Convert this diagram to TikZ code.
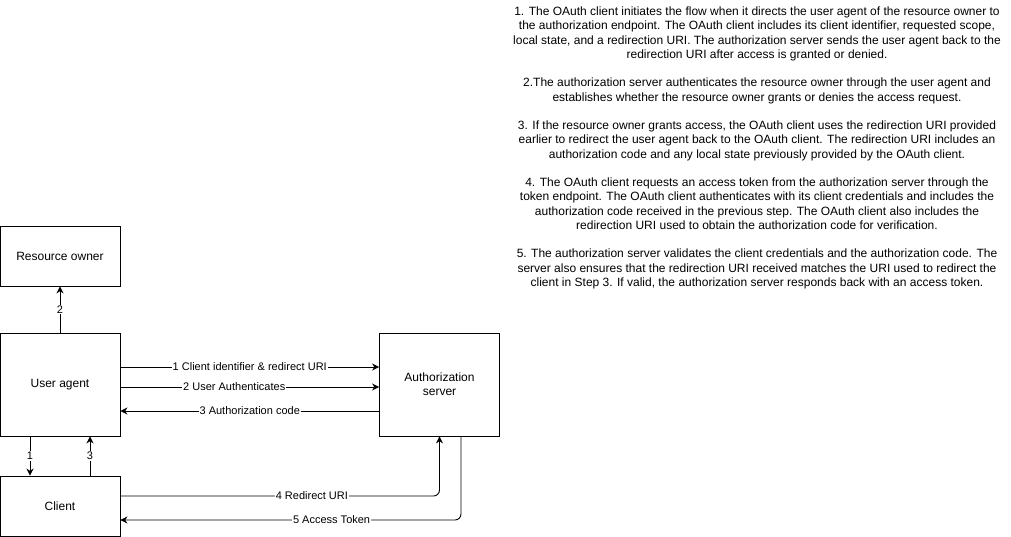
\documentclass[tikz,border=0pt]{standalone}
\usepackage{fontspec}
\setmainfont{Liberation Sans}
\usepackage{tikz}
\usetikzlibrary{
    calc,
    arrows.meta,
    positioning
}
\tikzset{
    box/.style={draw, line width=0.9pt, minimum width=120pt, inner sep=0pt,
        font=\fontsize{12}{14}\selectfont, align=center},
    arr/.style={line width=0.9pt, -{Stealth[length=7pt,width=7pt]}},
    lbl/.style={fill=white, inner sep=1pt, font=\fontsize{11}{13}\selectfont},
}

\begin{document}
\begin{tikzpicture}[x=1pt, y=-1pt]
    \useasboundingbox (0,0) rectangle (1011,536);
    % boxes
    \node[box, minimum height=60pt] (owner) at (60,256) {Resource owner};
    \node[box, minimum height=103pt] (agent) at (60,384.5) {User agent};
    \node[box, minimum height=60pt] (client) at (60,506) {Client};
    \node[box, minimum height=103pt] (authsrv) at (439.5,384.5) {Authorization\\server};
    % connectors
    \draw[arr] (agent.north) -- node[lbl] {2} (owner.south);
    \draw[arr] ([xshift=-30pt]agent.south) -- node[lbl] {1} ([xshift=-30pt]client.north);
    \draw[arr] ([xshift=30pt]client.north) -- node[lbl] {3} ([xshift=30pt]agent.south);
    \draw[arr] ([yshift=17.5pt]agent.east) -- node[lbl] {1 Client identifier \& redirect URI} ([yshift=17.5pt]authsrv.west);
    \draw[arr] ([yshift=-2.5pt]agent.east) -- node[lbl, pos=0.44] {2 User Authenticates} ([yshift=-2.5pt]authsrv.west);
    \draw[arr] ([yshift=-26.5pt]authsrv.west) -- node[lbl] {3 Authorization code} ([yshift=-26.5pt]agent.east);
    \draw[arr, rounded corners=6pt] ([yshift=10pt]client.east) -| node[lbl, pos=0.3] {4 Redirect URI} (authsrv.south);
    \draw[arr, rounded corners=6pt] ([xshift=21.5pt]authsrv.south) |- node[lbl, pos=0.69] {5 Access Token} ([yshift=-14pt]client.east);
    % notes
    \node[anchor=north, align=center, inner sep=0pt, font=\fontsize{12}{14.5}\selectfont] (notes) at (757,6.5) {%
        1. The OAuth client initiates the flow when it directs the user agent of the resource owner to\\
        the authorization endpoint. The OAuth client includes its client identifier, requested scope,\\
        local state, and a redirection URI. The authorization server sends the user agent back to the\\
        redirection URI after access is granted or denied.\\[13.5pt]
        2.The authorization server authenticates the resource owner through the user agent and\\
        establishes whether the resource owner grants or denies the access request.\\[13.5pt]
        3. If the resource owner grants access, the OAuth client uses the redirection URI provided\\
        earlier to redirect the user agent back to the OAuth client. The redirection URI includes an\\
        authorization code and any local state previously provided by the OAuth client.\\[13.5pt]
        4. The OAuth client requests an access token from the authorization server through the\\
        token endpoint. The OAuth client authenticates with its client credentials and includes the\\
        authorization code received in the previous step. The OAuth client also includes the\\
        redirection URI used to obtain the authorization code for verification.\\[13.5pt]
        5. The authorization server validates the client credentials and the authorization code. The\\
        server also ensures that the redirection URI received matches the URI used to redirect the\\
        client in Step 3. If valid, the authorization server responds back with an access token.};
\end{tikzpicture}
\end{document}
